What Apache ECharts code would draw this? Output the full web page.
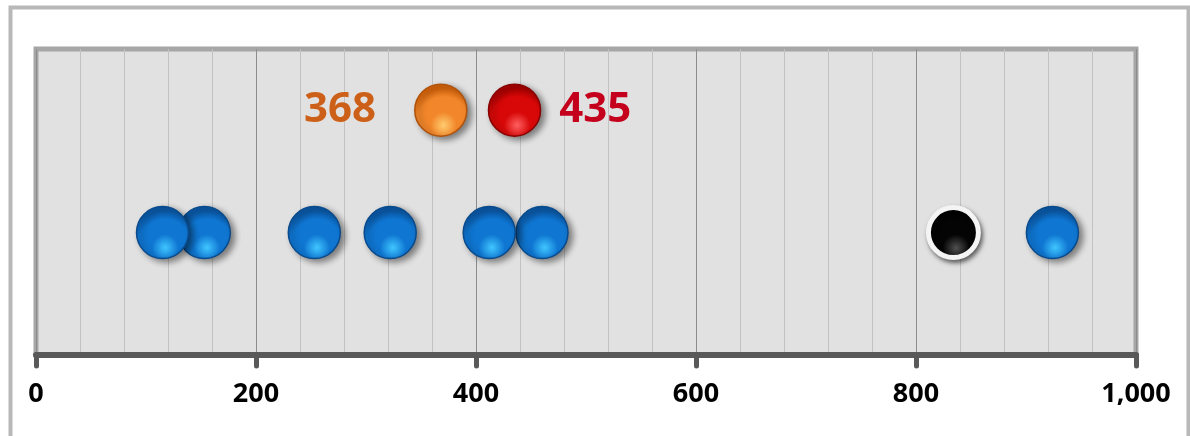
<!DOCTYPE html>
<html><head><meta charset="utf-8">
<script src="https://cdn.jsdelivr.net/npm/echarts@6/dist/echarts.min.js"></script>
<style>html,body{margin:0;padding:0;background:#fff}#c{width:1190px;height:436px}</style>
</head><body><div id="c"></div>
<script>
// Data
const blueValues = [115, 153, 253, 322, 412, 460, 924];
const blueRow = 2;
const blackValue = 834;
const blackRow = 2;
const orangeValue = 368;
const redValue = 435;
const topRow = 4;
const xTicks = [0, 200, 400, 600, 800, 1000];

const chart = echarts.init(document.getElementById('c'), null, {renderer: 'canvas'});

function ball(edge, mid, light) {
  return new echarts.graphic.RadialGradient(0.55, 0.78, 0.7, [
    {offset: 0, color: light},
    {offset: 0.35, color: mid},
    {offset: 0.75, color: mid},
    {offset: 1, color: edge}
  ]);
}
const shadow = {opacity: 1, shadowBlur: 6, shadowOffsetX: 4, shadowOffsetY: 3, shadowColor: 'rgba(0,0,0,0.45)'};

chart.setOption({
  animation: false,
  backgroundColor: '#ffffff',
  graphic: [{
    type: 'rect', left: 8, top: 5, silent: true, z: -10,
    shape: {width: 1178, height: 460},
    style: {fill: 'none', stroke: '#b8b8b8', lineWidth: 4}
  }],
  grid: {
    left: 36, right: 54, top: 49, bottom: 81,
    show: true, backgroundColor: '#e1e1e1', borderColor: '#a6a6a6', borderWidth: 5
  },
  xAxis: {
    type: 'value', min: xTicks[0], max: xTicks[xTicks.length - 1], interval: 200,
    axisLine: {show: true, lineStyle: {color: '#595959', width: 6}},
    axisTick: {show: true, length: 11, lineStyle: {color: '#595959', width: 5, cap: 'round'}},
    axisLabel: {
      margin: 26, color: '#000', fontFamily: 'Open Sans', fontWeight: 'bold', fontSize: 27,
      formatter: v => v.toLocaleString('en-US')
    },
    splitLine: {show: true, lineStyle: {color: '#8c8c8c', width: 1}},
    minorTick: {show: false, splitNumber: 5},
    minorSplitLine: {show: true, lineStyle: {color: '#c2c2c2', width: 1}}
  },
  yAxis: {
    type: 'value', min: 0, max: 5, show: false, splitLine: {show: false}
  },
  series: [
    {
      type: 'scatter', symbol: 'circle', symbolSize: 52,
      data: blueValues.map(v => [v, blueRow]).reverse(),
      itemStyle: Object.assign({color: ball('#0a57a4', '#0f76d2', '#40c6ff'), borderColor: '#084a8c', borderWidth: 1.5}, shadow),
      z: 3
    },
    {
      type: 'scatter', symbol: 'circle', symbolSize: 50,
      data: [[blackValue, blackRow]],
      itemStyle: Object.assign({color: ball('#000000', '#040404', '#505050'), borderColor: '#f4f4f4', borderWidth: 5}, {opacity: 1, shadowBlur: 5, shadowOffsetX: 2, shadowOffsetY: 3, shadowColor: 'rgba(0,0,0,0.5)'}),
      z: 3
    },
    {
      type: 'scatter', symbol: 'circle', symbolSize: 52,
      data: [[orangeValue, topRow]],
      itemStyle: Object.assign({color: ball('#d2620a', '#f2862a', '#ffcc70'), borderColor: '#b0520a', borderWidth: 1.5}, shadow),
      label: {show: true, position: 'left', distance: 38, formatter: p => String(p.value[0]),
        color: '#cd6018', opacity: 1, fontFamily: 'Open Sans', fontWeight: 'bold', fontSize: 42},
      z: 3
    },
    {
      type: 'scatter', symbol: 'circle', symbolSize: 52,
      data: [[redValue, topRow]],
      itemStyle: Object.assign({color: ball('#a80000', '#d80808', '#ff6060'), borderColor: '#880000', borderWidth: 1.5}, shadow),
      label: {show: true, position: 'right', distance: 18, formatter: p => String(p.value[0]),
        color: '#c4001c', opacity: 1, fontFamily: 'Open Sans', fontWeight: 'bold', fontSize: 42},
      z: 3
    }
  ]
});
</script>
</body></html>
